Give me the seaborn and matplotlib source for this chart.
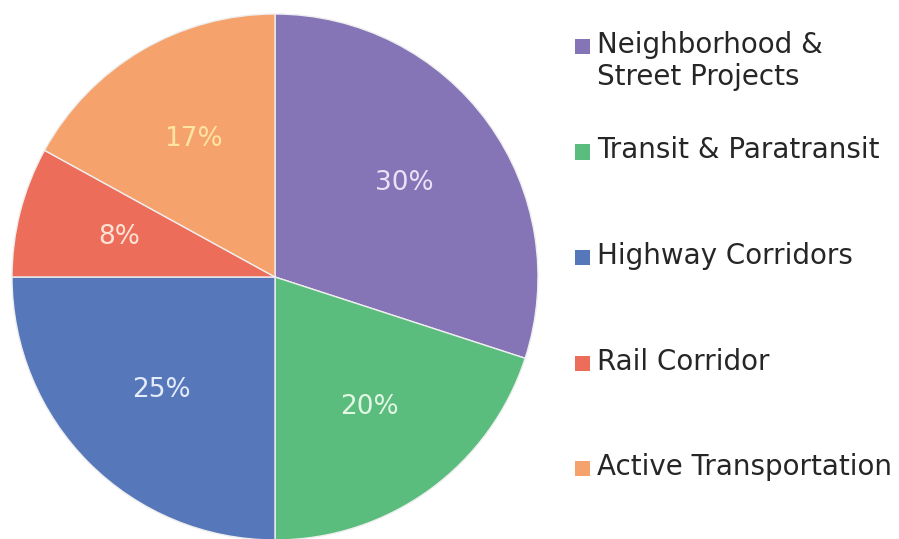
import matplotlib
matplotlib.use("Agg")
import matplotlib.pyplot as plt
from matplotlib.patches import Rectangle
import seaborn as sns

# Data
categories = ["Neighborhood &\nStreet Projects", "Transit & Paratransit",
              "Highway Corridors", "Rail Corridor", "Active Transportation"]
shares = [30, 20, 25, 8, 17]
slice_colors = ["#8574B6", "#5BBD7D", "#5678BA", "#EC6E5A", "#F6A26C"]
label_colors = ["#EAE2F6", "#E2F7E4", "#E4ECFA", "#FDE2D6", "#FFE4A2"]

sns.set_theme(style="white")
plt.rcParams["font.family"] = ["DejaVu Sans"]

W, H = 899, 539
fig = plt.figure(figsize=(W / 100, H / 100), dpi=100)
fig.patch.set_facecolor("white")

# pie centre ~ (275, 277) px, radius ~263 px (bottom runs off the canvas)
cx, cy, r = 275, 277, 263
ax = fig.add_axes([(cx - r) / W, (H - cy - r) / H, 2 * r / W, 2 * r / H])

palette = sns.color_palette(slice_colors)
wedges, texts, autotexts = ax.pie(
    shares, colors=palette, startangle=90, counterclock=False,
    autopct="%d%%", pctdistance=0.61, radius=1.0,
    wedgeprops=dict(edgecolor="#EEEEEE", linewidth=1.0),
    textprops=dict(fontsize=19),
)
for t, c in zip(autotexts, label_colors):
    t.set_color(c)
ax.set_aspect("equal")
ax.set_xlim(-1.0, 1.0)
ax.set_ylim(-1.0, 1.0)
ax.axis("off")

# legend: first-line baselines sit on an even grid, squares next to the first line
first_baseline = 53
step = 105.5
line_h = 32
sq = 15
for i, (cat, col) in enumerate(zip(categories, palette)):
    base = first_baseline + i * step
    n_lines = cat.count("\n") + 1
    fig.add_artist(Rectangle((575 / W, (H - base - 1) / H), sq / W, sq / H,
                             transform=fig.transFigure, facecolor=col,
                             edgecolor="none"))
    # va="baseline" pins the last line, so push down for extra lines
    last_base = base + (n_lines - 1) * line_h
    fig.text(597 / W, (H - last_base) / H, cat, fontsize=20, color="#262626",
             ha="left", va="baseline", linespacing=1.19)

fig.savefig("out.png", dpi=100, facecolor="white")
